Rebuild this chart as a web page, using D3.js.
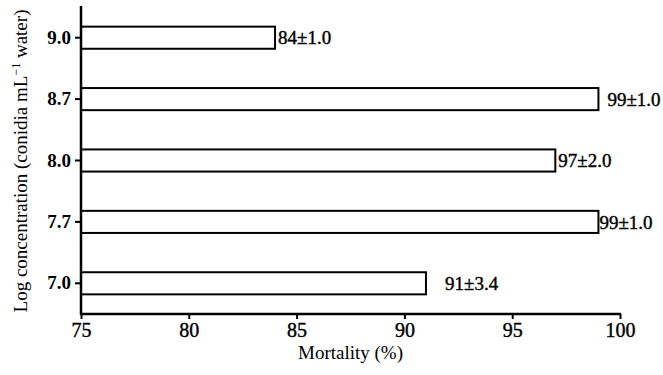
<!DOCTYPE html>
<html lang="en">
<head>
<meta charset="UTF-8">
<title>Mortality</title>
<script src="https://d3js.org/d3.v7.min.js"></script>
<style>
  body { margin: 0; background: #fff; }
  text { font-family: "Liberation Serif", "Times New Roman", serif; fill: #000; }
</style>
</head>
<body>
<div id="chart"></div>
<script>
const concentrations = ["9.0", "8.7", "8.0", "7.7", "7.0"];
const mortality = [84, 99, 97, 99, 91];
const valueLabels = ["84±1.0", "99±1.0", "97±2.0", "99±1.0", "91±3.4"];
const labelPad = [3, 9, 3, 1, 19];
const xTicks = [75, 80, 85, 90, 95, 100];

const W = 663, H = 375;
const svg = d3.select("#chart").append("svg").attr("width", W).attr("height", H);

const x = d3.scaleLinear().domain([75, 100]).range([81, 620]);
const y = d3.scaleBand().domain(concentrations).range([7, 314])
    .paddingInner(0.64).paddingOuter(0.32);

// bars
svg.append("g").selectAll("rect")
    .data(concentrations)
    .join("rect")
    .attr("x", x(75))
    .attr("y", d => y(d))
    .attr("width", (d, i) => x(mortality[i]) - x(75))
    .attr("height", y.bandwidth())
    .attr("fill", "#fff")
    .attr("stroke", "#000")
    .attr("stroke-width", 2);

// value labels
svg.append("g").selectAll("text")
    .data(concentrations)
    .join("text")
    .attr("x", (d, i) => x(mortality[i]) + labelPad[i])
    .attr("y", d => y(d) + y.bandwidth() / 2)
    .attr("dy", "0.35em")
    .attr("font-size", 19)
    .attr("stroke", "#000")
    .attr("stroke-width", 0.4)
    .text((d, i) => valueLabels[i]);

// x axis
const xAxis = svg.append("g")
    .attr("transform", "translate(0,314)")
    .call(d3.axisBottom(x).tickValues(xTicks).tickSize(5).tickPadding(4).tickSizeOuter(0));
xAxis.select(".domain").attr("stroke-width", 2.5).attr("d", `M${x(75)},0H${x(100) + 1}`);
xAxis.selectAll(".tick line").attr("stroke-width", 2);
xAxis.selectAll("text").attr("font-size", 20).attr("font-family", "Liberation Serif")
    .attr("stroke", "#000").attr("stroke-width", 0.4);

// y axis
const yAxis = svg.append("g")
    .attr("transform", `translate(${x(75)},0)`)
    .call(d3.axisLeft(y).tickSize(6).tickPadding(4).tickSizeOuter(0));
yAxis.select(".domain").attr("stroke-width", 2.5).attr("d", "M0,6V315");
yAxis.selectAll(".tick line").attr("stroke-width", 2);
yAxis.selectAll("text").attr("font-size", 19).attr("font-weight", "bold").attr("font-family", "Liberation Serif");

// titles
svg.append("text")
    .attr("x", (x(75) + x(100)) / 2)
    .attr("y", 359)
    .attr("text-anchor", "middle")
    .attr("font-size", 19)
    .text("Mortality (%)");

const yt = svg.append("text")
    .attr("transform", "translate(27,161) rotate(-90)")
    .attr("text-anchor", "middle")
    .attr("font-size", 19);
yt.append("tspan").text("Log concentration (conidia mL");
yt.append("tspan").attr("baseline-shift", "super").attr("font-size", 12).text("−1");
yt.append("tspan").text(" water)");
</script>
</body>
</html>
